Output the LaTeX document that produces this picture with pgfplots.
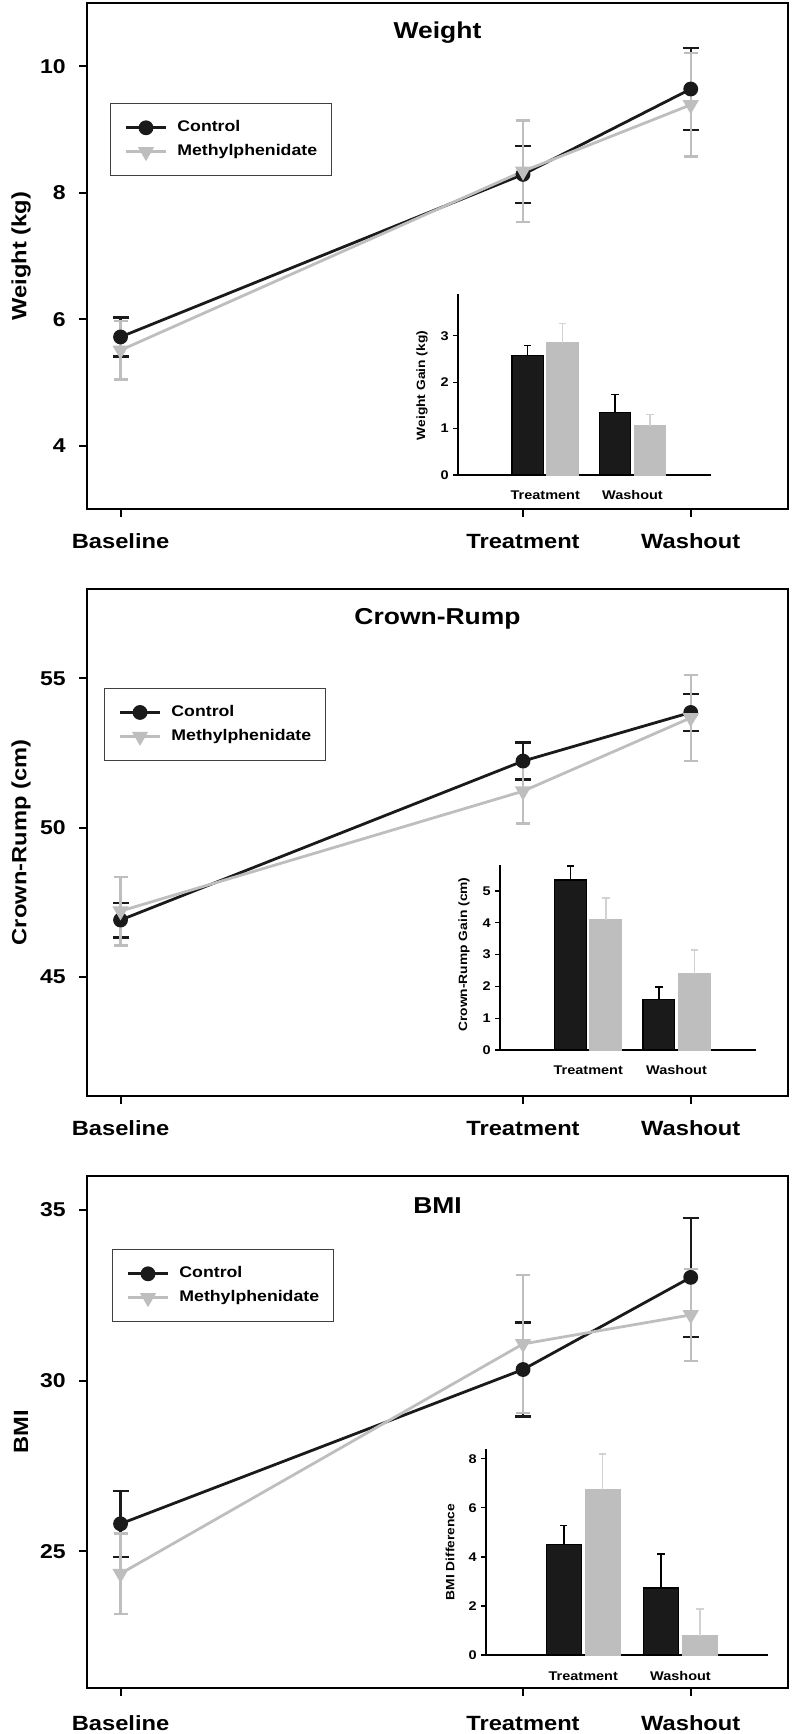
\documentclass[border=0pt]{standalone}
\usepackage{fontspec}
\setmainfont{Liberation Sans}[FakeStretch=1.15]
\usepackage{pgfplots}
\pgfplotsset{compat=1.18}
\definecolor{ctrl}{HTML}{1A1A1A}
\definecolor{mph}{HTML}{BEBEBE}
\definecolor{mpherr}{HTML}{D2D2D2}
\pgfplotsset{
 mainaxis/.style={
  scale only axis, width=350.5pt,
  xmin=-1, xmax=19.9,
  axis line style={line width=1pt, black},
  every tick/.style={black, line width=1pt},
  major tick length=4pt, tick align=outside,
  xtick pos=left, ytick pos=left,
  xtick={0,12,17}, xticklabels={Baseline,Treatment,Washout},
  /pgf/number format/assume math mode=true,
  xticklabel style={font=\fontsize{10.3}{12}\selectfont\bfseries, anchor=base, inner sep=0pt},
  yticklabel style={font=\fontsize{10}{12}\selectfont\bfseries, anchor=east, inner sep=0pt, xshift=-6.5pt},
  every axis y label/.style={at={(rel axis cs:0,0.5)}, xshift=-33pt, rotate=90, anchor=center, font=\fontsize{10.3}{12}\selectfont\bfseries},
  every axis title/.style={at={(rel axis cs:0.5,1)}, yshift=-15pt, anchor=center, font=\fontsize{11.5}{14}\selectfont\bfseries},
  legend style={draw=black!75, line width=0.6pt, fill=white, inner xsep=7pt, inner ysep=8pt, anchor=north west, font=\fontsize{7.7}{9}\selectfont\bfseries, row sep=4pt, column sep=5pt, nodes={inner sep=0pt, text height=6pt, text depth=2pt}},
  legend cell align=left,
  legend image code/.code={\draw[mark repeat=2,mark phase=2,#1] plot coordinates {(0pt,0pt) (10pt,0pt) (20pt,0pt)};},
 },
 ctrlline/.style={color=ctrl, line width=1.4pt, mark=*, mark size=3pt, mark options={solid, fill=ctrl},
  error bars/.cd, y dir=both, y explicit,
  error bar style={line width=1.2pt, ctrl},
  error mark options={rotate=90, line width=1.2pt, ctrl, mark size=4pt}},
 mphline/.style={color=mph, line width=1.4pt, mark=triangle*, mark size=3.3pt, mark options={solid, fill=mph, rotate=180},
  error bars/.cd, y dir=both, y explicit,
  error bar style={line width=1.2pt, mph},
  error mark options={rotate=90, line width=1.2pt, mph, mark size=3.5pt}},
 insetaxis/.style={
  scale only axis, clip=false,
  axis x line=bottom, axis y line=left,
  axis line style={line width=0.7pt, black, -},
  xmin=0, xmax=2.9, ymin=0,
  xtick={1,2}, xticklabels={Treatment,Washout},
  major x tick style={draw=none},
  every y tick/.style={black, line width=0.6pt},
  major tick length=2.5pt, tick align=outside,
  ytick pos=left,
  /pgf/number format/assume math mode=true,
  xticklabel style={font=\fontsize{6.3}{7}\selectfont\bfseries, anchor=base, inner sep=0pt, yshift=-10pt},
  yticklabel style={font=\fontsize{6.3}{7}\selectfont\bfseries, anchor=east, inner sep=0pt, xshift=-2pt},
  every axis y label/.style={at={(rel axis cs:0,0.5)}, xshift=-18pt, rotate=90, anchor=center, font=\fontsize{6}{7}\selectfont\bfseries},
 },
 ctrlbar/.style={ybar, bar width=0.36, bar shift=0pt, fill=ctrl, draw=black, line width=0.6pt,
  error bars/.cd, y dir=plus, y explicit,
  error bar style={line width=0.7pt, black},
  error mark options={rotate=90, line width=0.7pt, black, mark size=1.8pt}},
 mphbar/.style={ybar, bar width=0.36, bar shift=0pt, fill=mph, draw=mph, line width=0.6pt,
  error bars/.cd, y dir=plus, y explicit,
  error bar style={line width=0.7pt, mpherr},
  error mark options={rotate=90, line width=0.7pt, mpherr, mark size=1.8pt}},
}
\begin{document}
\begin{tikzpicture}
\useasboundingbox (0,0) rectangle (396pt,867pt);

% ---------------- Panel 1: Weight ----------------
\begin{axis}[mainaxis, at={(43.5pt,612.5pt)}, anchor=south west, height=253pt,
  ymin=3, ymax=11, ytick={4,6,8,10},
  xticklabel style={yshift=-15.75pt},
  title={Weight}, ylabel={Weight (kg)},
  legend style={at={(0.0328,0.802)}}]
\addplot[ctrlline] coordinates {(0,5.72) +- (0,0.31) (12,8.29) +- (0,0.45) (17,9.64) +- (0,0.65)};
\addlegendentry{Control}
\addplot[mphline] coordinates {(0,5.51) +- (0,0.46) (12,8.34) +- (0,0.80) (17,9.39) +- (0,0.82)};
\addlegendentry{Methylphenidate}
\end{axis}
\begin{axis}[insetaxis, at={(229pt,629.5pt)}, anchor=south west, width=126.5pt, height=90.5pt,
  ymax=3.9, ytick={0,1,2,3}, ylabel={Weight Gain (kg)},
  every axis y label/.append style={xshift=-0.5pt}]
\addplot[ctrlbar] coordinates {(0.8,2.57) +- (0,0.22) (1.8,1.34) +- (0,0.39)};
\addplot[mphbar] coordinates {(1.2,2.85) +- (0,0.41) (2.2,1.06) +- (0,0.24)};
\end{axis}

% ---------------- Panel 2: Crown-Rump ----------------
\begin{axis}[mainaxis, at={(43.5pt,319pt)}, anchor=south west, height=253.5pt,
  ymin=41, ymax=58, ytick={45,50,55},
  xticklabel style={yshift=-15.75pt},
  title={Crown-Rump}, ylabel={Crown-Rump (cm)},
  legend style={at={(0.0243,0.805)}}]
\addplot[ctrlline] coordinates {(0,46.90) +- (0,0.58) (12,52.23) +- (0,0.62) (17,53.86) +- (0,0.62)};
\addlegendentry{Control}
\addplot[mphline] coordinates {(0,47.20) +- (0,1.15) (12,51.22) +- (0,1.08) (17,53.68) +- (0,1.44)};
\addlegendentry{Methylphenidate}
\end{axis}
\begin{axis}[insetaxis, at={(250pt,342pt)}, anchor=south west, width=128pt, height=92.5pt,
  ymax=5.82, ytick={0,1,2,3,4,5}, ylabel={Crown-Rump Gain (cm)},
  every axis y label/.append style={xshift=1.5pt}]
\addplot[ctrlbar] coordinates {(0.8,5.35) +- (0,0.44) (1.8,1.60) +- (0,0.38)};
\addplot[mphbar] coordinates {(1.2,4.09) +- (0,0.69) (2.2,2.39) +- (0,0.75)};
\end{axis}

% ---------------- Panel 3: BMI ----------------
\begin{axis}[mainaxis, at={(43.5pt,23pt)}, anchor=south west, height=256pt,
  ymin=21, ymax=36, ytick={25,30,35},
  xticklabel style={yshift=-17.25pt},
  title={BMI}, ylabel={BMI},
  legend style={at={(0.0357,0.857)}}]
\addplot[ctrlline] coordinates {(0,25.81) +- (0,0.97) (12,30.33) +- (0,1.38) (17,33.03) +- (0,1.74)};
\addlegendentry{Control}
\addplot[mphline] coordinates {(0,24.35) +- (0,1.18) (12,31.08) +- (0,2.02) (17,31.93) +- (0,1.35)};
\addlegendentry{Methylphenidate}
\end{axis}
\begin{axis}[insetaxis, at={(243pt,39.5pt)}, anchor=south west, width=141pt, height=103pt,
  ymax=8.4, ytick={0,2,4,6,8}, ylabel={BMI Difference}]
\addplot[ctrlbar] coordinates {(0.8,4.49) +- (0,0.78) (1.8,2.73) +- (0,1.39)};
\addplot[mphbar] coordinates {(1.2,6.73) +- (0,1.47) (2.2,0.78) +- (0,1.10)};
\end{axis}
\end{tikzpicture}
\end{document}
